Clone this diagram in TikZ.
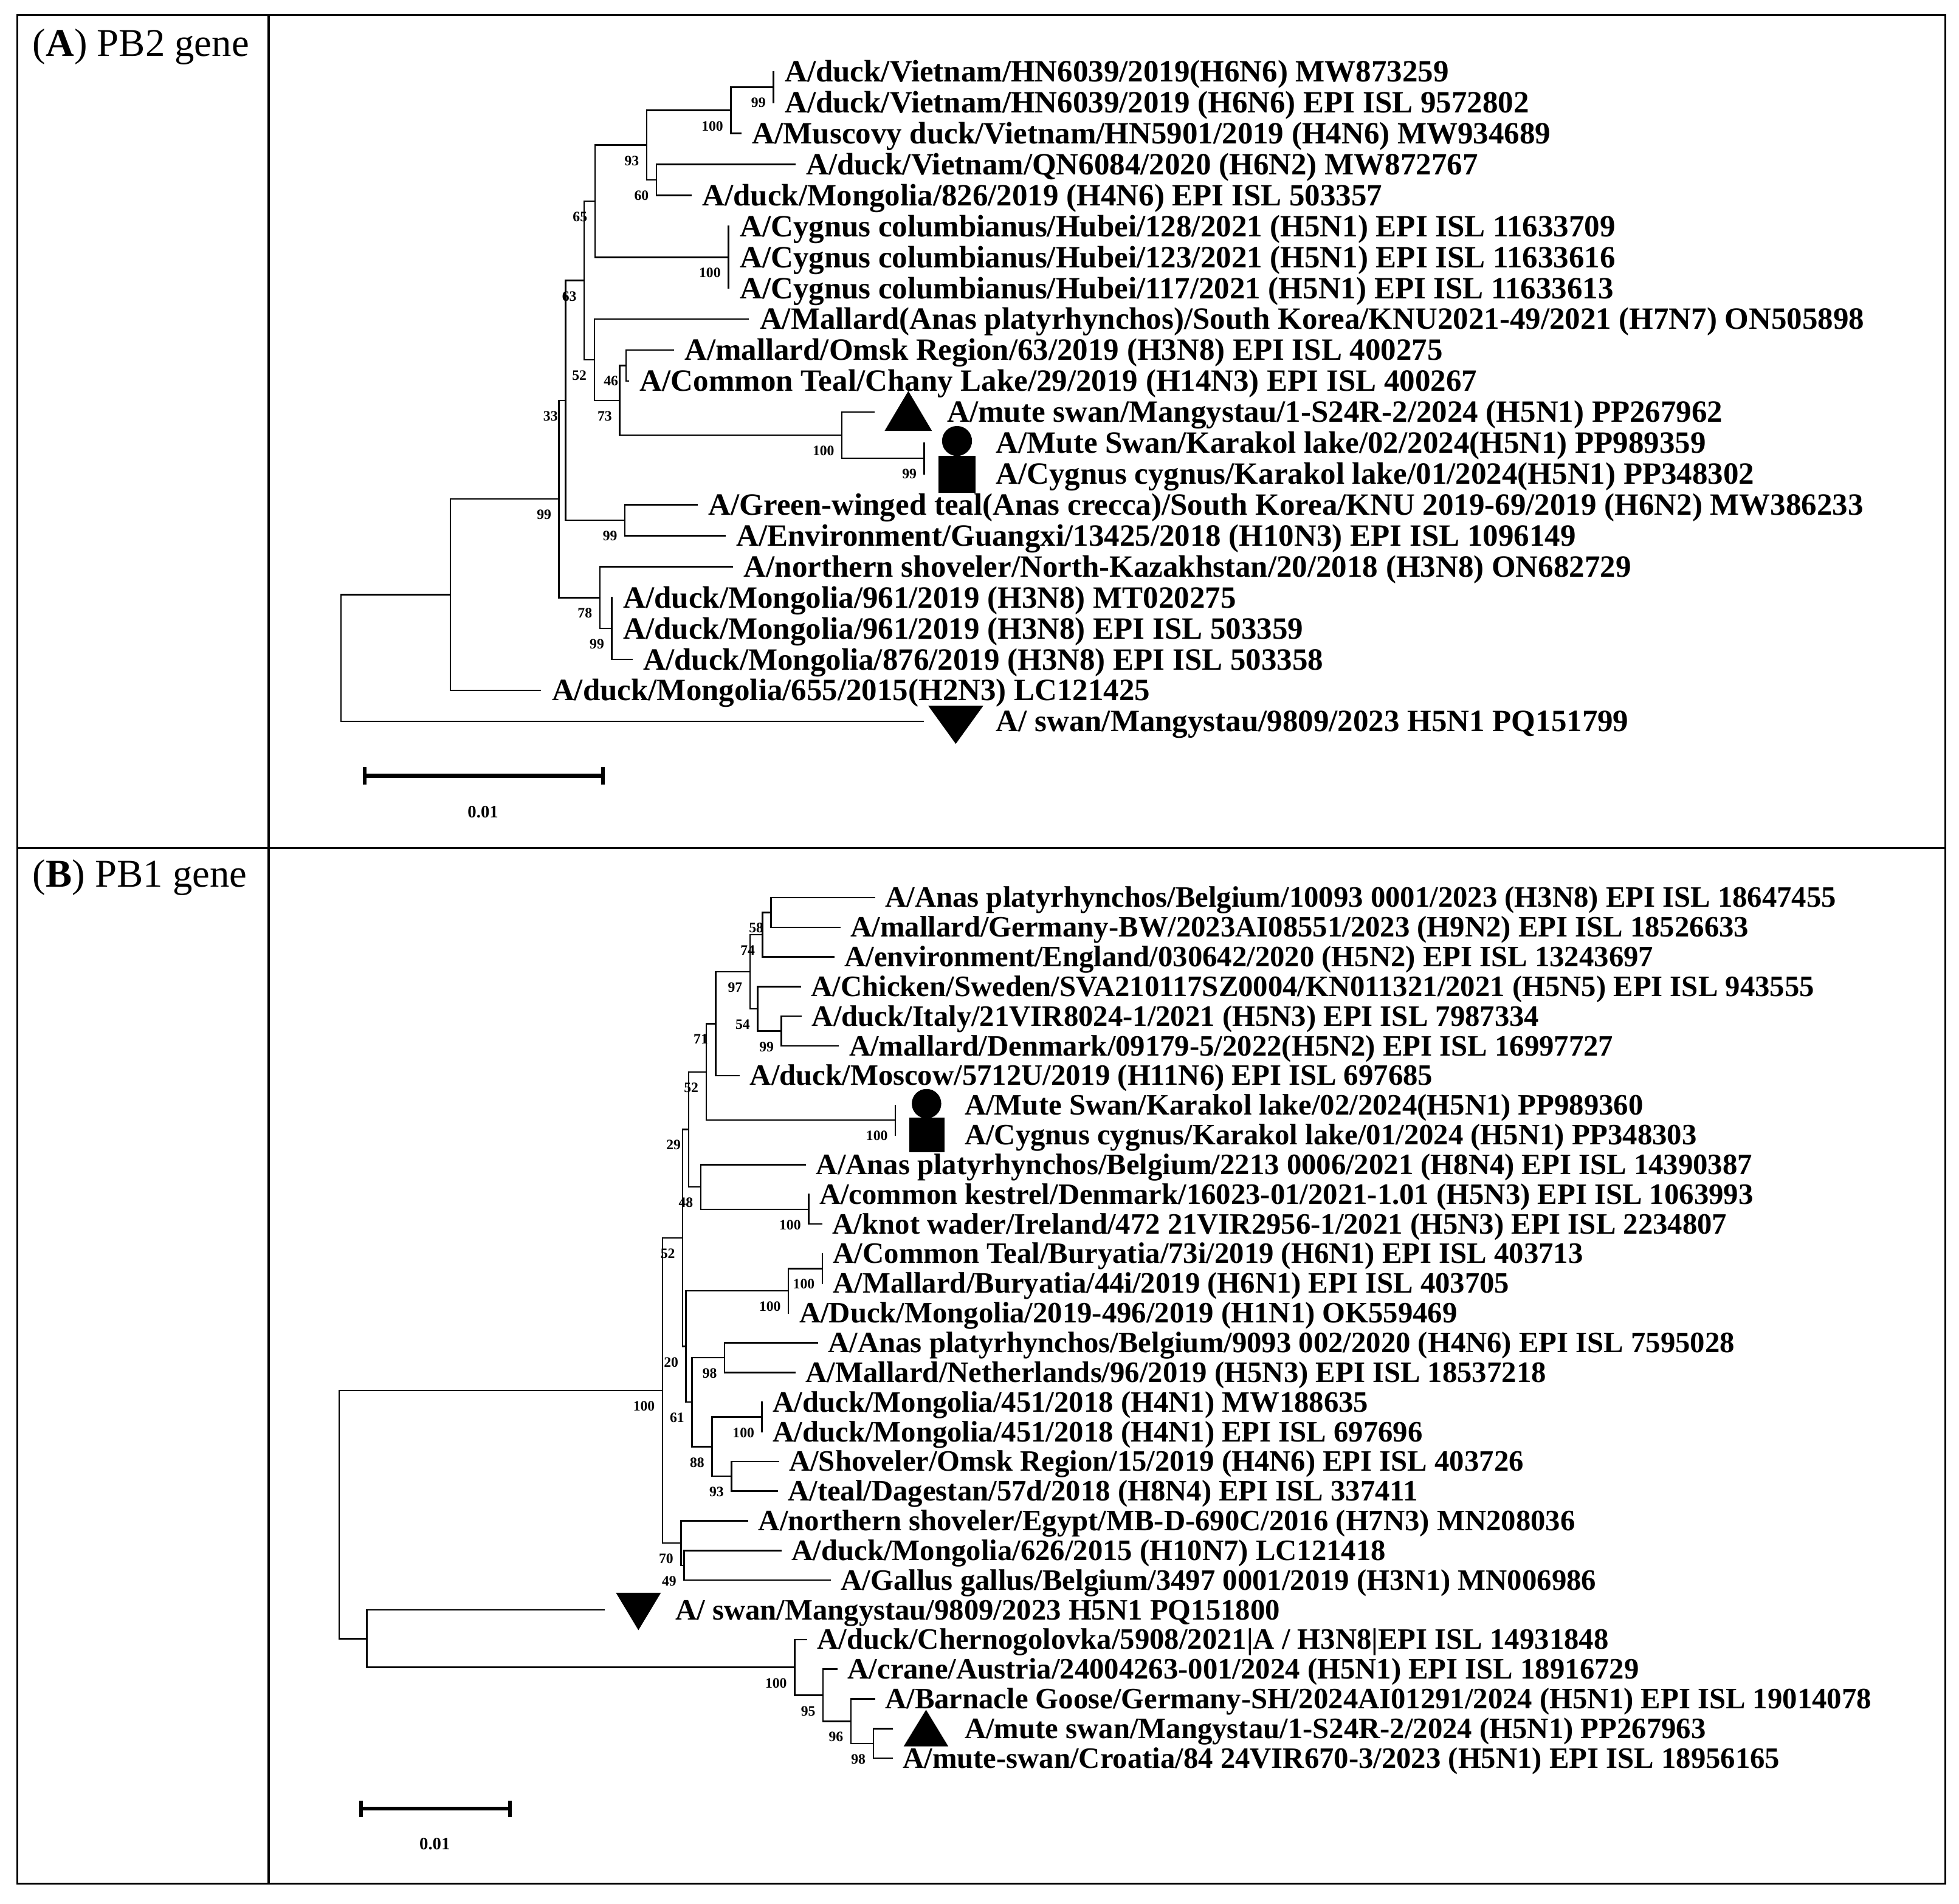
\documentclass[tikz,border=0pt]{standalone}
\usepackage{fontspec}
\setmainfont{Liberation Serif}
\newcommand{\fntA}{\fontsize{24.8}{26}\selectfont\bfseries}
\newcommand{\fntB}{\fontsize{23.7}{25}\selectfont\bfseries}
\newcommand{\fntS}{\fontsize{11.5}{12}\selectfont\bfseries}
\newcommand{\fntT}{\fontsize{31.5}{33}\selectfont}
\begin{document}
\begin{tikzpicture}[x=1pt,y=-1pt,
  br/.style={line width=1.2pt, line cap=rect},
  frame/.style={line width=1.6pt},
  lA/.style={anchor=base west, inner sep=0pt, xshift=9pt, yshift=-8.2pt, font=\fntA},
  lA0/.style={anchor=base west, inner sep=0pt, yshift=-8.2pt, font=\fntA},
  lB/.style={anchor=base west, inner sep=0pt, xshift=8.5pt, yshift=-7.8pt, font=\fntB},
  lB0/.style={anchor=base west, inner sep=0pt, yshift=-7.8pt, font=\fntB},
  bs/.style={anchor=north east, inner sep=0pt, xshift=-6pt, yshift=-8.5pt, font=\fntS},
  sbar/.style={line width=3pt},
  ttl/.style={anchor=base west, inner sep=0pt, font=\fntT}]
\useasboundingbox (0,0) rectangle (1568,1524.2);
% ---------- frame ----------
\draw[frame] (14,12) rectangle (1557,1508);
\draw[frame] (215,12) -- (215,1508);
\draw[frame] (14,679) -- (1557,679);
\node[ttl] (titleA) at (26,45) {(\textbf{A}) PB2 gene};
\node[ttl] (titleB) at (26,710) {(\textbf{B}) PB1 gene};
% ================= Panel A =================
\coordinate (ta1) at (619,57.3);
\coordinate (ta2) at (619,82.07);
\coordinate (ta3) at (593,106.84);
\coordinate (ta4) at (636,131.61);
\coordinate (ta5) at (553,156.38);
\coordinate (ta6) at (583,181.15);
\coordinate (ta7) at (583,205.92);
\coordinate (ta8) at (583,230.69);
\coordinate (ta9) at (599,255.46);
\coordinate (ta10) at (538.7,280.23);
\coordinate (ta11) at (503,305.0);
\coordinate (ta12) at (699.6,329.77);
\coordinate (ta13) at (739.8,354.54);
\coordinate (ta14) at (739.8,379.31);
\coordinate (ta15) at (557.9,404.08);
\coordinate (ta16) at (580.1,428.85);
\coordinate (ta17) at (586.2,453.62);
\coordinate (ta18) at (489.7,478.39);
\coordinate (ta19) at (489.7,503.16);
\coordinate (ta20) at (505.7,527.93);
\coordinate (ta21) at (432.6,552.7);
\coordinate (ta22) at (738.8,577.47);
\coordinate (a99v) at (619,69.7);
\coordinate (a100v) at (585,88.3);
\coordinate (a60) at (525.4,144.0);
\coordinate (a93) at (517.6,116.1);
\coordinate (a100c) at (583,205.92);
\coordinate (a65) at (476.2,161.0);
\coordinate (a46) at (501,292.6);
\coordinate (a99k) at (739.8,366.9);
\coordinate (a100m) at (673.9,348.3);
\coordinate (a73) at (496,320.5);
\coordinate (a52) at (475.7,288.0);
\coordinate (a63) at (467.6,224.5);
\coordinate (a99g) at (500.2,416.5);
\coordinate (a33) at (452.6,320.5);
\coordinate (a99d) at (489.7,503.16);
\coordinate (a78) at (480.1,478.4);
\coordinate (a99r) at (447.4,399.5);
\coordinate (an) at (360.6,476.1);
\coordinate (aroot) at (272.9,526.8);
\foreach \p/\c in {a99v/ta1,a99v/ta2,a100v/a99v,a100v/ta3,a60/ta4,a60/ta5,a93/a100v,a93/a60,
  a100c/ta6,a100c/ta7,a100c/ta8,a65/a93,a65/a100c,a46/ta10,a46/ta11,a99k/ta13,a99k/ta14,
  a100m/ta12,a100m/a99k,a73/a46,a73/a100m,a52/ta9,a52/a73,a63/a65,a63/a52,a99g/ta15,a99g/ta16,
  a33/a63,a33/a99g,a99d/ta18,a99d/ta19,a99d/ta20,a78/ta17,a78/a99d,a99r/a33,a99r/a78,
  an/a99r,an/ta21,aroot/an,aroot/ta22}
  \draw[br] (\p) |- (\c);
\foreach \n/\v in {a99v/99,a100v/100,a93/93,a60/60,a65/65,a100c/100,a63/63,a52/52,a46/46,a73/73,
  a33/33,a100m/100,a99k/99,a99g/99,a99r/99,a78/78,a99d/99}
  \node[bs] at (\n) {\v};
\node[lA] (la1) at (ta1) {A/duck/Vietnam/HN6039/2019(H6N6) MW873259};
\node[lA] (la2) at (ta2) {A/duck/Vietnam/HN6039/2019 (H6N6) EPI ISL 9572802};
\node[lA] (la3) at (ta3) {A/Muscovy duck/Vietnam/HN5901/2019 (H4N6) MW934689};
\node[lA] (la4) at (ta4) {A/duck/Vietnam/QN6084/2020 (H6N2) MW872767};
\node[lA] (la5) at (ta5) {A/duck/Mongolia/826/2019 (H4N6) EPI ISL 503357};
\node[lA] (la6) at (ta6) {A/Cygnus columbianus/Hubei/128/2021 (H5N1) EPI ISL 11633709};
\node[lA] (la7) at (ta7) {A/Cygnus columbianus/Hubei/123/2021 (H5N1) EPI ISL 11633616};
\node[lA] (la8) at (ta8) {A/Cygnus columbianus/Hubei/117/2021 (H5N1) EPI ISL 11633613};
\node[lA] (la9) at (ta9) {A/Mallard(Anas platyrhynchos)/South Korea/KNU2021-49/2021 (H7N7) ON505898};
\node[lA] (la10) at (ta10) {A/mallard/Omsk Region/63/2019 (H3N8) EPI ISL 400275};
\node[lA] (la11) at (ta11) {A/Common Teal/Chany Lake/29/2019 (H14N3) EPI ISL 400267};
\node[lA0] (la12) at (758,329.77) {A/mute swan/Mangystau/1-S24R-2/2024 (H5N1) PP267962};
\node[lA0] (la13) at (797,354.54) {A/Mute Swan/Karakol lake/02/2024(H5N1) PP989359};
\node[lA0] (la14) at (797,379.31) {A/Cygnus cygnus/Karakol lake/01/2024(H5N1) PP348302};
\node[lA] (la15) at (ta15) {A/Green-winged teal(Anas crecca)/South Korea/KNU 2019-69/2019 (H6N2) MW386233};
\node[lA] (la16) at (ta16) {A/Environment/Guangxi/13425/2018 (H10N3) EPI ISL 1096149};
\node[lA] (la17) at (ta17) {A/northern shoveler/North-Kazakhstan/20/2018 (H3N8) ON682729};
\node[lA] (la18) at (ta18) {A/duck/Mongolia/961/2019 (H3N8) MT020275};
\node[lA] (la19) at (ta19) {A/duck/Mongolia/961/2019 (H3N8) EPI ISL 503359};
\node[lA] (la20) at (ta20) {A/duck/Mongolia/876/2019 (H3N8) EPI ISL 503358};
\node[lA] (la21) at (ta21) {A/duck/Mongolia/655/2015(H2N3) LC121425};
\node[lA0] (la22) at (797,577.47) {A/ swan/Mangystau/9809/2023 H5N1 PQ151799};
% symbols A
\fill (708,345) -- (746,345) -- (727,313) -- cycle;
\fill (766,353) circle (12);
\fill (751,365) rectangle (781,394.5);
\fill (743,565) -- (787,565) -- (765,595.5) -- cycle;
% scale bar A
\draw[sbar] (292,621) -- (482.5,621);
\draw[sbar] (292,614) -- (292,628);
\draw[sbar] (482.5,614) -- (482.5,628);
\node[font=\fntS\fontsize{14}{15}\selectfont, inner sep=0pt] (sA) at (386.6,650) {0.01};
% ================= Panel B =================
\coordinate (tb1) at (699.9,718.5);
\coordinate (tb2) at (672.1,742.26);
\coordinate (tb3) at (667.2,766.02);
\coordinate (tb4) at (640.6,789.78);
\coordinate (tb5) at (641.2,813.54);
\coordinate (tb6) at (671,837.3);
\coordinate (tb7) at (591.6,861.06);
\coordinate (tb8) at (716.7,884.82);
\coordinate (tb9) at (716.7,908.58);
\coordinate (tb10) at (644.6,932.34);
\coordinate (tb11) at (647.2,956.1);
\coordinate (tb12) at (657.7,979.86);
\coordinate (tb13) at (658.2,1003.62);
\coordinate (tb14) at (658.2,1027.38);
\coordinate (tb15) at (631.1,1051.14);
\coordinate (tb16) at (654.2,1074.9);
\coordinate (tb17) at (636.3,1098.66);
\coordinate (tb18) at (609.9,1122.42);
\coordinate (tb19) at (609.9,1146.18);
\coordinate (tb20) at (622.9,1169.94);
\coordinate (tb21) at (622,1193.7);
\coordinate (tb22) at (598.4,1217.46);
\coordinate (tb23) at (625.1,1241.22);
\coordinate (tb24) at (664.5,1264.98);
\coordinate (tb25) at (483.6,1288.74);
\coordinate (tb26) at (645.5,1312.5);
\coordinate (tb27) at (669.8,1336.26);
\coordinate (tb28) at (699.8,1360.02);
\coordinate (tb29) at (713.9,1383.78);
\coordinate (tb30) at (713.9,1407.54);
\coordinate (b58) at (617.2,730.4);
\coordinate (b74) at (610.4,748.2);
\coordinate (b99) at (625.5,825.4);
\coordinate (b54) at (606.4,807.6);
\coordinate (b97) at (600.3,777.9);
\coordinate (b71) at (572.9,819.5);
\coordinate (b100k) at (716.7,896.7);
\coordinate (b52) at (565.2,858.1);
\coordinate (b100w) at (647.2,968.0);
\coordinate (b48) at (560.9,950.2);
\coordinate (b29) at (551.1,904.1);
\coordinate (b100i) at (658.2,1015.5);
\coordinate (b100b) at (631.1,1033.3);
\coordinate (b98) at (580,1086.8);
\coordinate (b100m) at (609.9,1134.3);
\coordinate (b93) at (585.5,1181.8);
\coordinate (b88) at (569.9,1158.1);
\coordinate (b61) at (553.9,1122.4);
\coordinate (b20) at (549.1,1077.9);
\coordinate (b52b) at (546.4,991.0);
\coordinate (b49) at (547.5,1253.1);
\coordinate (b70) at (545.1,1235.3);
\coordinate (b100big) at (530.3,1113.1);
\coordinate (b98l) at (699,1395.7);
\coordinate (b96) at (681.1,1377.9);
\coordinate (b95) at (658.8,1357.1);
\coordinate (b100l) at (636,1334.8);
\coordinate (bn) at (293.7,1311.8);
\coordinate (broot) at (271.4,1212.4);
\foreach \p/\c in {b58/tb1,b58/tb2,b74/b58,b74/tb3,b99/tb5,b99/tb6,b54/tb4,b54/b99,b97/b74,b97/b54,
  b71/b97,b71/tb7,b100k/tb8,b100k/tb9,b52/b71,b52/b100k,b100w/tb11,b100w/tb12,b48/tb10,b48/b100w,
  b29/b52,b29/b48,b100i/tb13,b100i/tb14,b100b/b100i,b100b/tb15,b98/tb16,b98/tb17,b100m/tb18,b100m/tb19,
  b93/tb20,b93/tb21,b88/b100m,b88/b93,b61/b98,b61/b88,b20/b100b,b20/b61,b52b/b29,b52b/b20,
  b49/tb23,b49/tb24,b70/tb22,b70/b49,b100big/b52b,b100big/b70,b98l/tb29,b98l/tb30,b96/tb28,b96/b98l,
  b95/tb27,b95/b96,b100l/tb26,b100l/b95,bn/tb25,bn/b100l,broot/b100big,broot/bn}
  \draw[br] (\p) |- (\c);
\foreach \n/\v in {b58/58,b74/74,b97/97,b54/54,b99/99,b71/71,b52/52,b100k/100,b29/29,b48/48,b100w/100,
  b52b/52,b100i/100,b100b/100,b20/20,b61/61,b98/98,b88/88,b100m/100,b93/93,b100big/100,b70/70,b49/49,
  b100l/100,b95/95,b96/96,b98l/98}
  \node[bs] at (\n) {\v};
\node[lB] (lb1) at (tb1) {A/Anas platyrhynchos/Belgium/10093 0001/2023 (H3N8) EPI ISL 18647455};
\node[lB] (lb2) at (tb2) {A/mallard/Germany-BW/2023AI08551/2023 (H9N2) EPI ISL 18526633};
\node[lB] (lb3) at (tb3) {A/environment/England/030642/2020 (H5N2) EPI ISL 13243697};
\node[lB] (lb4) at (tb4) {A/Chicken/Sweden/SVA210117SZ0004/KN011321/2021 (H5N5) EPI ISL 943555};
\node[lB] (lb5) at (tb5) {A/duck/Italy/21VIR8024-1/2021 (H5N3) EPI ISL 7987334};
\node[lB] (lb6) at (tb6) {A/mallard/Denmark/09179-5/2022(H5N2) EPI ISL 16997727};
\node[lB] (lb7) at (tb7) {A/duck/Moscow/5712U/2019 (H11N6) EPI ISL 697685};
\node[lB0] (lb8) at (772,884.82) {A/Mute Swan/Karakol lake/02/2024(H5N1) PP989360};
\node[lB0] (lb9) at (772,908.58) {A/Cygnus cygnus/Karakol lake/01/2024 (H5N1) PP348303};
\node[lB] (lb10) at (tb10) {A/Anas platyrhynchos/Belgium/2213 0006/2021 (H8N4) EPI ISL 14390387};
\node[lB] (lb11) at (tb11) {A/common kestrel/Denmark/16023-01/2021-1.01 (H5N3) EPI ISL 1063993};
\node[lB] (lb12) at (tb12) {A/knot wader/Ireland/472 21VIR2956-1/2021 (H5N3) EPI ISL 2234807};
\node[lB] (lb13) at (tb13) {A/Common Teal/Buryatia/73i/2019 (H6N1) EPI ISL 403713};
\node[lB] (lb14) at (tb14) {A/Mallard/Buryatia/44i/2019 (H6N1) EPI ISL 403705};
\node[lB] (lb15) at (tb15) {A/Duck/Mongolia/2019-496/2019 (H1N1) OK559469};
\node[lB] (lb16) at (tb16) {A/Anas platyrhynchos/Belgium/9093 002/2020 (H4N6) EPI ISL 7595028};
\node[lB] (lb17) at (tb17) {A/Mallard/Netherlands/96/2019 (H5N3) EPI ISL 18537218};
\node[lB] (lb18) at (tb18) {A/duck/Mongolia/451/2018 (H4N1) MW188635};
\node[lB] (lb19) at (tb19) {A/duck/Mongolia/451/2018 (H4N1) EPI ISL 697696};
\node[lB] (lb20) at (tb20) {A/Shoveler/Omsk Region/15/2019 (H4N6) EPI ISL 403726};
\node[lB] (lb21) at (tb21) {A/teal/Dagestan/57d/2018 (H8N4) EPI ISL 337411};
\node[lB] (lb22) at (tb22) {A/northern shoveler/Egypt/MB-D-690C/2016 (H7N3) MN208036};
\node[lB] (lb23) at (tb23) {A/duck/Mongolia/626/2015 (H10N7) LC121418};
\node[lB] (lb24) at (tb24) {A/Gallus gallus/Belgium/3497 0001/2019 (H3N1) MN006986};
\node[lB0] (lb25) at (540.4,1288.74) {A/ swan/Mangystau/9809/2023 H5N1 PQ151800};
\node[lB] (lb26) at (tb26) {A/duck/Chernogolovka/5908/2021|A / H3N8|EPI ISL 14931848};
\node[lB] (lb27) at (tb27) {A/crane/Austria/24004263-001/2024 (H5N1) EPI ISL 18916729};
\node[lB] (lb28) at (tb28) {A/Barnacle Goose/Germany-SH/2024AI01291/2024 (H5N1) EPI ISL 19014078};
\node[lB0] (lb29) at (772,1383.78) {A/mute swan/Mangystau/1-S24R-2/2024 (H5N1) PP267963};
\node[lB] (lb30) at (tb30) {A/mute-swan/Croatia/84 24VIR670-3/2023 (H5N1) EPI ISL 18956165};
% symbols B
\fill (741.6,883.5) circle (11.8);
\fill (728,894.8) rectangle (756.2,922.6);
\fill (493,1275) -- (529,1275) -- (511,1305) -- cycle;
\fill (723.3,1398) -- (759,1398) -- (741.2,1368.7) -- cycle;
% scale bar B
\draw[sbar] (289,1448) -- (408,1448);
\draw[sbar] (289,1441.5) -- (289,1454.5);
\draw[sbar] (408,1441.5) -- (408,1454.5);
\node[font=\fntS\fontsize{14}{15}\selectfont, inner sep=0pt] (sB) at (348,1476) {0.01};
\end{tikzpicture}
\end{document}
